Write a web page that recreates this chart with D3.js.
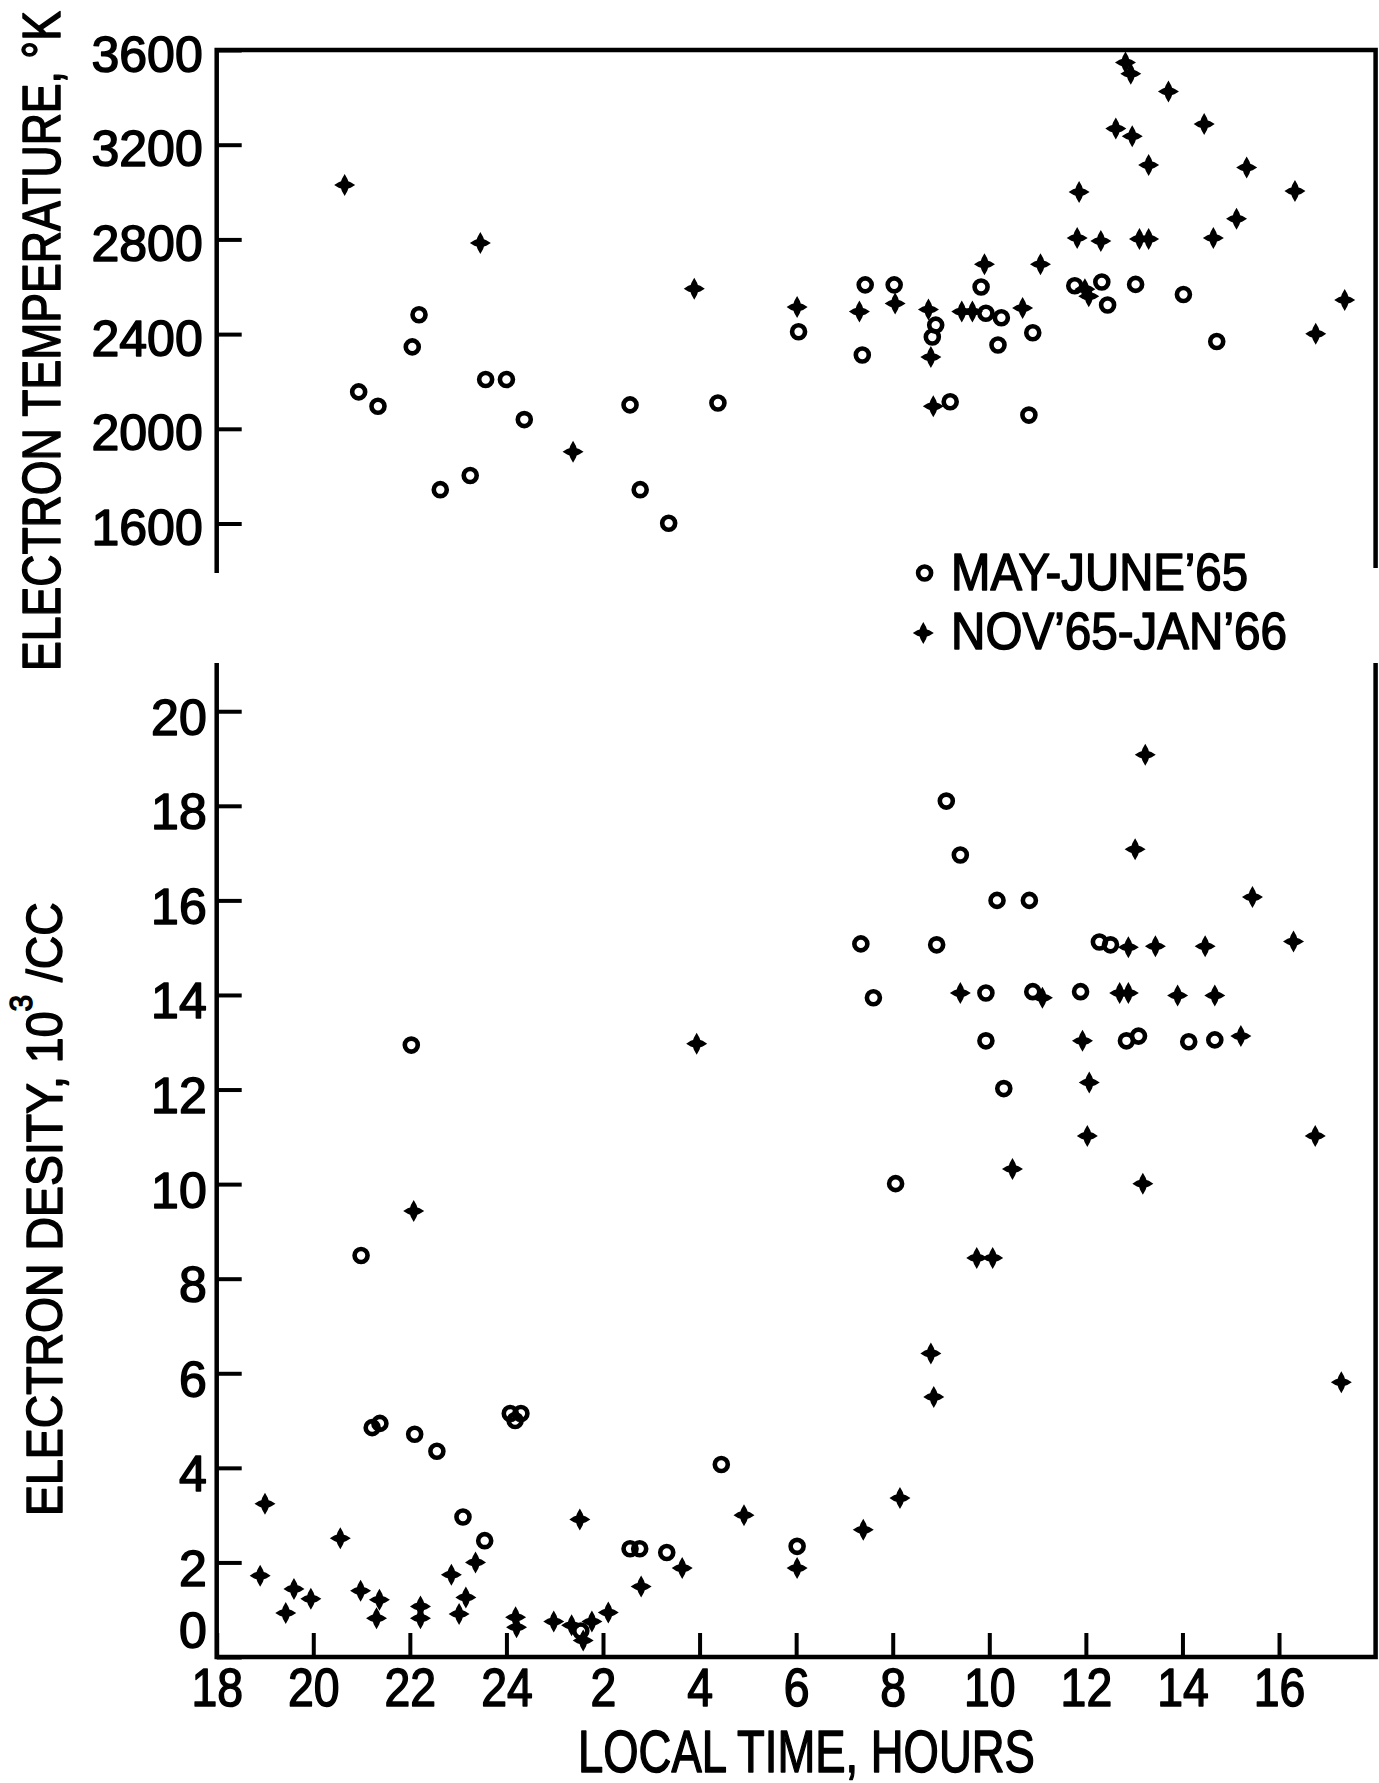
<!DOCTYPE html>
<html>
<head>
<meta charset="utf-8">
<script src="https://cdn.jsdelivr.net/npm/d3@7"></script>
<style>
  body { margin: 0; background: #fff; }
  text { font-family: "Liberation Sans", Arial, sans-serif; fill: #000; stroke: #000; stroke-width: 1.5px; stroke-linejoin: round; }
</style>
</head>
<body>
<svg id="chart" width="1379" height="1783"></svg>
<script>
// Hours run on past midnight: 26 means 2 in the morning
var hourTicks = [18, 20, 22, 24, 26, 28, 30, 32, 34, 36, 38, 40];
var hourLabels = ["18", "20", "22", "24", "2", "4", "6", "8", "10", "12", "14", "16"];
var tempTicks = [1600, 2000, 2400, 2800, 3200, 3600];
var densTicks = [0, 2, 4, 6, 8, 10, 12, 14, 16, 18, 20];

// Electron temperature, deg K
var tempMay = [
  [20.94, 2156], [21.34, 2095], [22.05, 2346], [22.19, 2482], [22.63, 1743],
  [23.25, 1803], [23.57, 2208], [24.0, 2208], [24.37, 2039], [26.56, 2101],
  [26.77, 1743], [27.36, 1601], [28.38, 2109], [30.05, 2410], [31.37, 2312],
  [31.43, 2608], [32.03, 2608], [32.82, 2388], [32.89, 2438], [33.19, 2114],
  [33.83, 2599], [33.93, 2488], [34.18, 2354], [34.25, 2469], [34.82, 2058],
  [34.90, 2406], [35.77, 2604], [36.33, 2620], [36.45, 2523], [37.03, 2610],
  [38.02, 2567], [38.71, 2369]
];
var tempNov = [
  [20.65, 3030], [23.46, 2785], [25.38, 1903], [27.89, 2592], [30.02, 2514],
  [31.31, 2495], [32.05, 2529], [32.74, 2504], [32.79, 2303], [32.84, 2095],
  [33.43, 2495], [33.65, 2495], [33.90, 2695], [34.69, 2510], [35.06, 2695],
  [35.82, 2806], [35.86, 3000], [35.98, 2590], [36.06, 2560], [36.31, 2793],
  [36.62, 3268], [36.82, 3547], [36.93, 3500], [36.96, 3236], [37.11, 2802],
  [37.30, 2802], [37.30, 3114], [37.71, 3425], [38.45, 3287], [38.64, 2806],
  [39.12, 2887], [39.33, 3104], [40.33, 3004], [40.76, 2401], [41.36, 2544]
];

// Electron density, 10^3 per cc
var densMay = [
  [20.99, 8.49], [21.22, 4.85], [21.38, 4.94], [22.03, 12.94], [22.10, 4.71],
  [22.56, 4.35], [23.10, 2.96], [23.55, 2.46], [24.08, 5.15], [24.30, 5.15],
  [24.18, 5.0], [25.54, 0.55], [26.56, 2.29], [26.76, 2.29], [27.32, 2.21],
  [28.45, 4.07], [30.02, 2.34], [31.34, 15.08], [31.60, 13.94], [32.06, 10.01],
  [32.91, 15.06], [33.11, 18.10], [33.40, 16.96], [33.93, 14.04], [33.93, 13.03],
  [34.16, 16.0], [34.30, 12.02], [34.83, 16.0], [34.90, 14.07], [35.89, 14.07],
  [36.28, 15.12], [36.51, 15.06], [36.84, 13.03], [37.09, 13.13], [38.13, 13.01],
  [38.67, 13.05]
];
var densNov = [
  [19.0, 3.24], [18.90, 1.72], [19.60, 1.44], [19.43, 0.93], [19.95, 1.23],
  [20.56, 2.51], [20.98, 1.40], [21.37, 1.21], [21.31, 0.82], [22.08, 9.43],
  [22.22, 1.07], [22.22, 0.82], [22.86, 1.74], [23.16, 1.26], [23.02, 0.91],
  [23.36, 2.0], [24.19, 0.84], [24.21, 0.63], [24.98, 0.75], [25.35, 0.67],
  [25.52, 2.91], [25.59, 0.35], [25.77, 0.75], [26.11, 0.94], [26.79, 1.49],
  [27.64, 1.88], [27.94, 12.97], [28.92, 3.0], [30.02, 1.88], [31.39, 2.69],
  [32.15, 3.36], [32.79, 6.42], [32.85, 5.50], [33.40, 14.04], [33.74, 8.44],
  [34.07, 8.44], [34.48, 10.32], [35.10, 13.94], [35.93, 13.03], [36.03, 11.02],
  [36.07, 12.15], [36.70, 14.04], [36.88, 14.04], [36.88, 15.01], [37.02, 17.08],
  [37.18, 10.01], [37.23, 19.08], [37.44, 15.03], [37.90, 13.99], [38.47, 15.03],
  [38.67, 13.99], [39.21, 13.13], [39.45, 16.07], [40.30, 15.13], [40.75, 11.02],
  [41.29, 5.81]
];

var svg = d3.select("#chart");

var x = d3.scaleLinear().domain([18, 42]).range([216.7, 1375.6]);
var yT = d3.scaleLinear().domain([1391, 3600]).range([573, 50]);
var yD = d3.scaleLinear().domain([0, 21.02]).range([1657, 663]);

// fat four pointed cross used for the winter series
var crossPath = "M0,-11 L2.8,-6 L3.6,-3.6 L6,-2.8 L10.5,0 L6,2.8 L3.6,3.6 L2.8,6 L0,11 " +
                "L-2.8,6 L-3.6,3.6 L-6,2.8 L-10.5,0 L-6,-2.8 L-3.6,-3.6 L-2.8,-6 Z";

// frames: top panel open at the bottom, lower panel open at the top
svg.append("path")
  .attr("d", "M" + x(18) + "," + yT.range()[0] + " V" + yT(3600) + " H" + x(42) + " V568")
  .attr("fill", "none").attr("stroke", "#000").attr("stroke-width", 4.5);
svg.append("path")
  .attr("d", "M" + x(18) + "," + yD.range()[1] + " V" + yD(0) + " H" + x(42) + " V" + yD.range()[1])
  .attr("fill", "none").attr("stroke", "#000").attr("stroke-width", 4.5);

// y axis, temperature
var gT = svg.append("g")
  .attr("transform", "translate(" + x(18) + ",0)")
  .call(d3.axisLeft(yT).tickValues(tempTicks).tickSize(-25).tickPadding(14).tickFormat(d3.format("d")));
gT.select(".domain").remove();
gT.selectAll(".tick line").attr("stroke", "#000").attr("stroke-width", 4);
gT.selectAll(".tick text").style("font-size", "50px").attr("dy", "0.42em");

// y axis, density
var gD = svg.append("g")
  .attr("transform", "translate(" + x(18) + ",0)")
  .call(d3.axisLeft(yD).tickValues(densTicks).tickSize(-25).tickPadding(10));
gD.select(".domain").remove();
gD.selectAll(".tick line").attr("stroke", "#000").attr("stroke-width", 4);
gD.selectAll(".tick text").style("font-size", "50px")
  .attr("dy", function(d) { return d === 0 ? "-0.2em" : "0.46em"; });

// x axis, local time
var gX = svg.append("g")
  .attr("transform", "translate(0," + yD(0) + ")")
  .call(d3.axisBottom(x).tickValues(hourTicks).tickSize(-24).tickPadding(11)
    .tickFormat(function(d, i) { return hourLabels[i]; }));
gX.select(".domain").remove();
gX.selectAll(".tick line").attr("stroke", "#000").attr("stroke-width", 4);
gX.selectAll(".tick text").style("font-size", "53px")
  .attr("textLength", function(d, i) { return hourLabels[i].length * 25.8; })
  .attr("lengthAdjust", "spacingAndGlyphs");

// squeeze a text to a given length (the original lettering is condensed)
function fitText(g, txt, target) {
  var w = txt.node().getComputedTextLength();
  txt.attr("transform", "scale(" + (target / w) + ",1)");
}

// axis titles
var tTop = svg.append("g").attr("transform", "translate(60,671) rotate(-90)");
var tTopText = tTop.append("text").style("font-size", "54px").text("ELECTRON TEMPERATURE, °K");
fitText(tTop, tTopText, 660);

var tBot = svg.append("g").attr("transform", "translate(62,1516) rotate(-90)");
var tBotText = tBot.append("text").style("font-size", "50px");
tBotText.append("tspan").text("ELECTRON DESITY, 10");
tBotText.append("tspan").attr("dy", -30).style("font-size", "32px").text("3");
tBotText.append("tspan").attr("dy", 30).text(" /CC");
fitText(tBot, tBotText, 614);

var tX = svg.append("g").attr("transform", "translate(578,1772)");
var tXText = tX.append("text").style("font-size", "60px").text("LOCAL TIME, HOURS");
fitText(tX, tXText, 457);

// points
function drawSeries(data, yScale, kind) {
  var sel = svg.append("g").selectAll("path.pt")
    .data(data).enter();
  if (kind === "circle") {
    sel.append("circle")
      .attr("cx", function(d) { return x(d[0]); })
      .attr("cy", function(d) { return yScale(d[1]); })
      .attr("r", 6.5)
      .attr("fill", "none").attr("stroke", "#000").attr("stroke-width", 4.6);
  } else {
    sel.append("path")
      .attr("d", crossPath)
      .attr("transform", function(d) { return "translate(" + x(d[0]) + "," + yScale(d[1]) + ")"; })
      .attr("fill", "#000");
  }
}
drawSeries(tempMay, yT, "circle");
drawSeries(tempNov, yT, "cross");
drawSeries(densMay, yD, "circle");
drawSeries(densNov, yD, "cross");

// legend
var legend = svg.append("g");
legend.append("circle").attr("cx", 924.6).attr("cy", 573).attr("r", 6.5)
  .attr("fill", "none").attr("stroke", "#000").attr("stroke-width", 4.6);
legend.append("path").attr("d", crossPath).attr("transform", "translate(923.3,633)").attr("fill", "#000");
var l1 = legend.append("g").attr("transform", "translate(951,590)");
fitText(l1, l1.append("text").style("font-size", "51px").text("MAY-JUNE\u201965"), 297);
var l2 = legend.append("g").attr("transform", "translate(951,649)");
fitText(l2, l2.append("text").style("font-size", "51px").text("NOV\u201965-JAN\u201966"), 336);
</script>
</body>
</html>
